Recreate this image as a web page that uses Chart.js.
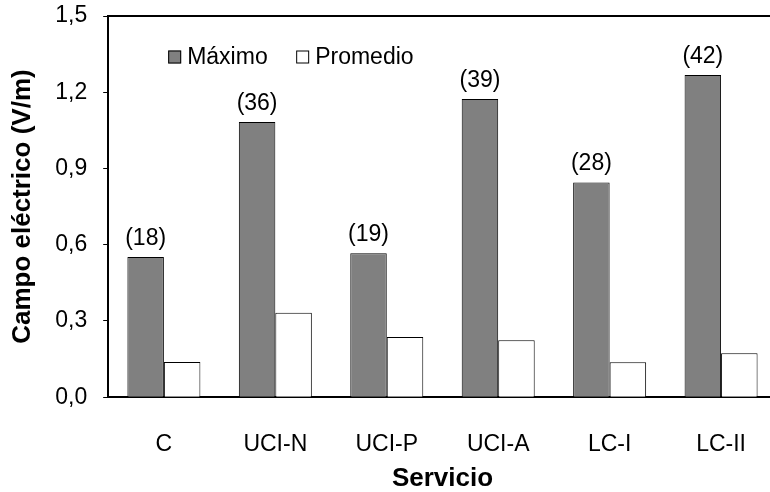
<!DOCTYPE html>
<html>
<head>
<meta charset="utf-8">
<script src="https://cdn.jsdelivr.net/npm/chart.js@4"></script>
<style>
  html, body { margin: 0; padding: 0; overflow: hidden; background: #fff; }
  #wrap { width: 780px; height: 492px; }
</style>
</head>
<body>
<div id="wrap"><canvas id="chart"></canvas></div>
<script>
const servicios = ["C", "UCI-N", "UCI-P", "UCI-A", "LC-I", "LC-II"];
const maximo = [0.552, 1.083, 0.566, 1.173, 0.845, 1.268];
const promedio = [0.139, 0.332, 0.237, 0.224, 0.138, 0.173];
const mediciones = [18, 36, 19, 39, 28, 42];
const yTickLabels = ["0,0", "0,3", "0,6", "0,9", "1,2", "1,5"];

const FONT = "'Liberation Sans', Arial, sans-serif";

// top frame line of the plot area
const topLine = {
  id: "topLine",
  afterDraw(chart) {
    const { ctx, chartArea } = chart;
    ctx.save();
    ctx.strokeStyle = "#000";
    ctx.lineWidth = 2;
    ctx.beginPath();
    ctx.moveTo(chartArea.left - 1, chartArea.top);
    ctx.lineTo(chartArea.right, chartArea.top);
    ctx.stroke();
    ctx.restore();
  }
};

// "(n)" above the Máximo bars
const countLabels = {
  id: "countLabels",
  afterDatasetsDraw(chart) {
    const ctx = chart.ctx;
    const meta = chart.getDatasetMeta(0);
    ctx.save();
    ctx.font = "23px " + FONT;
    ctx.fillStyle = "#000";
    ctx.textAlign = "center";
    ctx.textBaseline = "alphabetic";
    meta.data.forEach((bar, i) => {
      ctx.fillText("(" + mediciones[i] + ")", bar.x, bar.y - 12);
    });
    ctx.restore();
  }
};

// legend inside the plot, top left
const innerLegend = {
  id: "innerLegend",
  afterDraw(chart) {
    const ctx = chart.ctx;
    const left = chart.chartArea.left;
    const y = 57;
    const xs = [left + 60, left + 188];
    ctx.save();
    ctx.font = "23px " + FONT;
    ctx.textBaseline = "middle";
    chart.data.datasets.forEach((ds, i) => {
      const x = xs[i];
      ctx.fillStyle = ds.backgroundColor;
      ctx.fillRect(x, y - 6.5, 13, 13);
      ctx.strokeStyle = "#000";
      ctx.lineWidth = 1;
      ctx.strokeRect(x + 0.5, y - 6, 12, 12);
      ctx.fillStyle = "#000";
      ctx.fillText(ds.label, x + 19, y + 1);
    });
    ctx.restore();
  }
};

new Chart(document.getElementById("chart"), {
  type: "bar",
  data: {
    labels: servicios,
    datasets: [
      {
        label: "Máximo",
        data: maximo,
        backgroundColor: "#808080",
        borderColor: "#000",
        borderWidth: 1
      },
      {
        label: "Promedio",
        data: promedio,
        backgroundColor: "#ffffff",
        borderColor: "#000",
        borderWidth: 1
      }
    ]
  },
  options: {
    responsive: true,
    maintainAspectRatio: false,
    animation: false,
    layout: { padding: { top: 0, left: 0, right: 0, bottom: 0 } },
    datasets: {
      bar: { categoryPercentage: 0.655, barPercentage: 1.0 }
    },
    plugins: {
      legend: { display: false },
      tooltip: { enabled: false }
    },
    scales: {
      x: {
        grid: { display: false, drawTicks: false },
        border: { color: "#000", width: 2 },
        ticks: {
          color: "#000",
          padding: 34,
          font: { family: FONT, size: 23 }
        },
        title: {
          display: true,
          text: "Servicio",
          color: "#000",
          font: { family: FONT, size: 26, weight: "bold" },
          padding: { top: -30, bottom: -2 }
        }
      },
      y: {
        min: 0,
        max: 1.5,
        grid: {
          drawOnChartArea: false,
          drawTicks: true,
          tickLength: 5,
          color: "#000",
          lineWidth: 1
        },
        border: { color: "#000", width: 2 },
        ticks: {
          stepSize: 0.3,
          color: "#000",
          padding: 16,
          font: { family: FONT, size: 23, lineHeight: 0 },
          callback: (v, i) => yTickLabels[i]
        },
        title: {
          display: true,
          text: "Campo eléctrico (V/m)",
          color: "#000",
          font: { family: FONT, size: 26, weight: "bold" },
          padding: { top: 7, bottom: 1 }
        }
      }
    }
  },
  plugins: [topLine, countLabels, innerLegend]
});
</script>
</body>
</html>
